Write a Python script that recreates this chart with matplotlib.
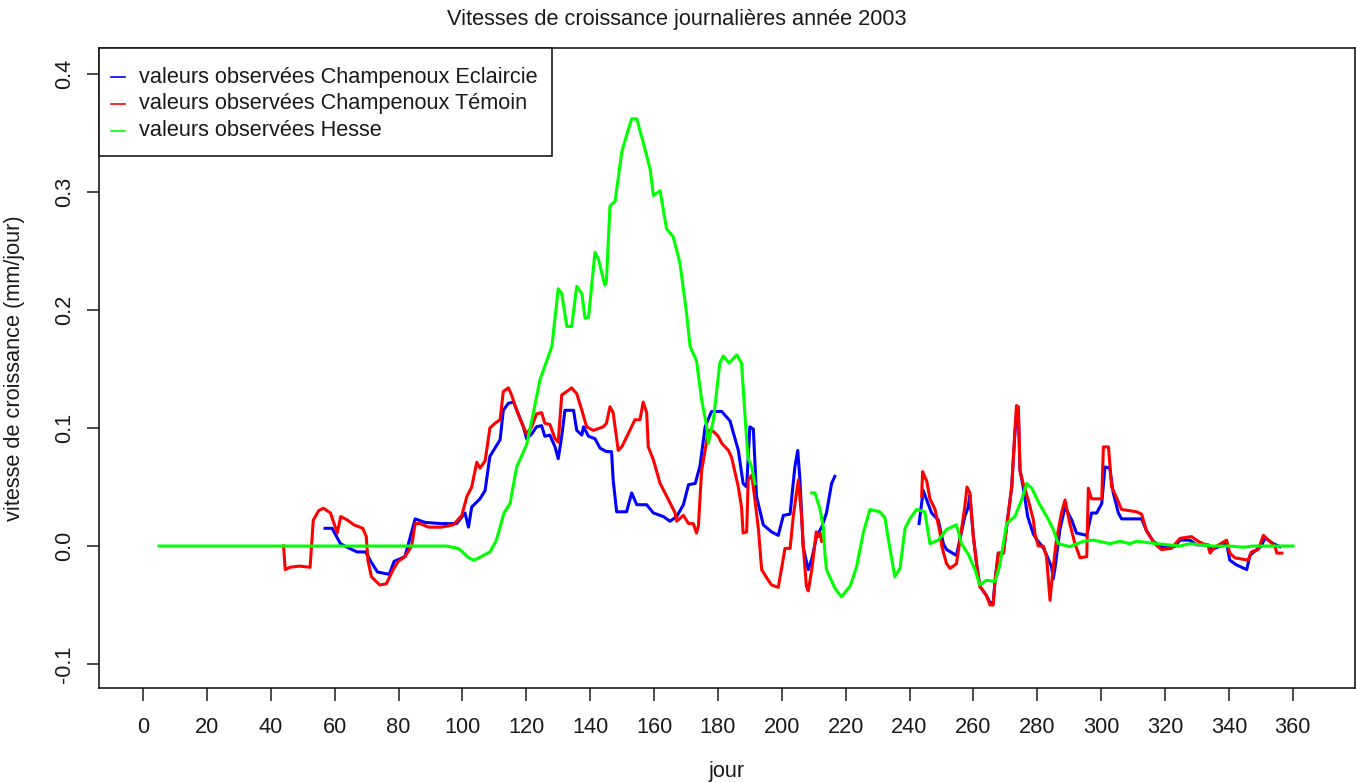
import numpy as np
import matplotlib
matplotlib.use("Agg")
import matplotlib.pyplot as plt
from matplotlib.patches import Rectangle
from matplotlib.lines import Line2D

plt.rcParams["font.family"] = ["Liberation Sans", "DejaVu Sans"]
FS = 15.7
INK = "#1a1a1a"

# --- data (day of year, growth rate mm/day) ---
# Champenoux Eclaircie (blue) -- two measured periods
blue_day1 = [57, 59.2, 61.8, 63.9, 67, 69.7, 71.3, 73.4, 77.1, 78.6, 82, 85.2, 88.3, 93.5, 98.2,
             100.8, 101.9, 102.9, 105.5, 107.1, 108.6, 110.2, 111.8, 112.8, 114.4, 116, 117.5,
             119.1, 120.1, 121.7, 123.2, 124.8, 125.8, 127.4, 129, 130, 131.1, 132.1, 134.8,
             135.8, 137.4, 137.9, 139.5, 141.5, 143.1, 145.1, 146.7, 147.2, 148.3, 151.4, 153,
             154.6, 157.7, 159.8, 162.9, 165, 167.1, 169.2, 170.8, 172.9, 174.4, 176, 178,
             181.2, 183.8, 186.4, 187.9, 189, 190, 191.1, 192.1, 194.2, 196.8, 198.9, 200.5,
             202.6, 204.1, 205, 205.7, 206.7, 208.3, 209.4, 210.9, 212.5, 214, 215.6, 216.6]
blue_val1 = [0.015, 0.015, 0.002, -0.001, -0.005, -0.005, -0.013, -0.022, -0.024, -0.013, -0.009,
             0.023, 0.020, 0.019, 0.019, 0.028, 0.016, 0.033, 0.040, 0.047, 0.076, 0.083, 0.090,
             0.115, 0.121, 0.122, 0.112, 0.101, 0.091, 0.095, 0.101, 0.102, 0.093, 0.094, 0.084,
             0.074, 0.093, 0.115, 0.115, 0.098, 0.094, 0.101, 0.093, 0.091, 0.083, 0.080, 0.080,
             0.056, 0.029, 0.029, 0.045, 0.035, 0.035, 0.028, 0.025, 0.021, 0.025, 0.035, 0.052,
             0.053, 0.068, 0.101, 0.114, 0.114, 0.106, 0.081, 0.053, 0.050, 0.101, 0.099, 0.042,
             0.018, 0.012, 0.009, 0.026, 0.027, 0.067, 0.081, 0.056, -0.001, -0.020, -0.011,
             0.008, 0.016, 0.028, 0.053, 0.059]
blue_day2 = [243, 244.3, 245.4, 246.9, 249, 250.6, 251.6, 254.7, 255.8, 257.3, 258.4, 258.9, 260,
             261, 262, 264.1, 265.2, 266.2, 266.8, 267.8, 269.4, 270.4, 272, 273, 273.5, 274.1,
             274.6, 275.6, 277, 278.8, 280, 282, 283, 284.5, 285, 285.6, 287.1, 288.7, 290.8,
             292.3, 295.5, 297, 298.6, 300.2, 301.2, 302.7, 303.8, 305.4, 306.4, 312.7, 314.2,
             316.3, 318.9, 323.1, 324.7, 327.8, 329.9, 333.5, 334.6, 339.3, 340.3, 342.4, 345.6,
             346.6, 348.7, 350.2, 351.3, 353.9, 356]
blue_val2 = [0.019, 0.047, 0.039, 0.028, 0.022, 0.002, -0.003, -0.008, 0.006, 0.025, 0.033, 0.043,
             0.008, -0.015, -0.034, -0.042, -0.048, -0.048, -0.029, -0.006, -0.006, 0.016, 0.050,
             0.095, 0.112, 0.112, 0.064, 0.050, 0.025, 0.010, 0.005, -0.002, -0.008, -0.018,
             -0.028, -0.018, 0.014, 0.033, 0.022, 0.011, 0.009, 0.028, 0.028, 0.036, 0.067, 0.066,
             0.045, 0.028, 0.023, 0.023, 0.013, 0.004, -0.0005, -0.0005, 0.005, 0.005, 0.001,
             0.001, -0.003, 0.002, -0.012, -0.016, -0.020, -0.008, -0.003, 0.0, 0.007, 0.002,
             -0.0005]

# Champenoux Temoin (red)
red_day1 = [44, 44.5, 46, 49, 52.3, 53.3, 55, 56.5, 58.7, 60.8, 61.9, 64, 66, 68.8, 69.9, 70.4,
            71.5, 74.1, 76.2, 78.3, 79.9, 82, 84.1, 85.2, 86.7, 89.4, 93.5, 97.2, 99.8, 101.4,
            102.9, 104.5, 105.5, 107.1, 108.6, 110.2, 111.8, 112.8, 114.4, 115.4, 117, 118.6,
            120.1, 121.7, 123.2, 124.8, 125.8, 127.4, 129, 130, 131.1, 132.7, 134.2, 135.8,
            137.4, 138.9, 141, 144.1, 145.1, 146.2, 147.2, 148.8, 149.9, 151.9, 154, 155.6,
            156.6, 157.7, 158.2, 159.8, 161.9, 164, 166.6, 167.1, 169.2, 170.8, 172.3, 173.3,
            173.9, 174.9, 176, 177, 178.6, 180.1, 181.2, 183.3, 184.3, 186.4, 187.4, 187.9, 189,
            189.5, 190.6, 191.6, 192.7, 193.7, 195.3, 196.8, 198.9, 200, 201, 202.6, 203.6,
            204.6, 205.2, 206.2, 206.9, 207.7, 208.3, 209.4, 210.8, 211.4, 212, 212.5]
red_val1 = [0.0, -0.020, -0.018, -0.017, -0.018, 0.022, 0.030, 0.032, 0.028, 0.011, 0.025, 0.022,
            0.018, 0.015, 0.008, -0.012, -0.026, -0.033, -0.032, -0.020, -0.013, -0.009, 0.0,
            0.019, 0.019, 0.016, 0.016, 0.018, 0.026, 0.042, 0.050, 0.071, 0.066, 0.072, 0.100,
            0.104, 0.107, 0.131, 0.134, 0.128, 0.115, 0.104, 0.095, 0.101, 0.112, 0.113, 0.104,
            0.103, 0.091, 0.088, 0.128, 0.131, 0.134, 0.129, 0.115, 0.101, 0.098, 0.101, 0.104,
            0.118, 0.113, 0.081, 0.084, 0.095, 0.107, 0.107, 0.122, 0.113, 0.084, 0.073, 0.053,
            0.042, 0.028, 0.021, 0.026, 0.019, 0.019, 0.011, 0.017, 0.064, 0.081, 0.098, 0.097,
            0.093, 0.087, 0.081, 0.075, 0.050, 0.033, 0.011, 0.012, 0.056, 0.060, 0.039, 0.014,
            -0.020, -0.027, -0.033, -0.035, -0.018, -0.002, -0.002, 0.025, 0.045, 0.056, 0.025,
            -0.006, -0.034, -0.038, -0.020, 0.012, 0.008, 0.011, 0.004]
red_day2 = [243.8, 244.1, 245.4, 246.4, 248, 249.5, 250.1, 251.6, 252.7, 254.7, 255.8, 257.3, 258,
            258.9, 260, 261, 262, 264.1, 265.2, 266.2, 266.8, 267.8, 269.4, 270.4, 272, 273,
            273.5, 274.1, 274.6, 275.6, 277.2, 278.8, 279.3, 280.3, 281.9, 282.9, 284, 285, 286,
            287.6, 288.7, 290.2, 291.8, 293.4, 295.5, 296, 297, 300.2, 300.7, 302.3, 303.3, 305,
            306.4, 311.1, 312.7, 314.2, 316.8, 318.9, 322, 324.7, 328.3, 330.4, 333.5, 334.1,
            335.6, 339.3, 340.3, 341.9, 346, 347.1, 349.2, 350.8, 352.4, 354.5, 355, 356.6]
red_val2 = [0.042, 0.063, 0.055, 0.040, 0.031, 0.012, 0.0, -0.015, -0.019, -0.015, 0.005, 0.033,
            0.050, 0.045, 0.008, -0.015, -0.034, -0.042, -0.050, -0.050, -0.029, -0.006, -0.006,
            0.016, 0.050, 0.098, 0.119, 0.118, 0.064, 0.053, 0.039, 0.022, 0.010, 0.0, 0.0,
            -0.009, -0.046, -0.018, 0.005, 0.028, 0.039, 0.019, 0.002, -0.010, -0.009, 0.049,
            0.040, 0.040, 0.084, 0.084, 0.050, 0.040, 0.031, 0.029, 0.027, 0.013, 0.002, -0.003,
            -0.002, 0.0065, 0.008, 0.004, 0.0, -0.006, -0.001, 0.005, -0.006, -0.010, -0.012,
            -0.005, -0.003, 0.009, 0.005, -0.0005, -0.006, -0.006]

# Hesse (green)
green_day1 = [5, 95, 98.7, 100, 101.5, 103.4, 104.5, 106.5, 108.6, 110.5, 111.8, 113, 114.9, 117,
              120.1, 122, 124.3, 128, 130, 131.1, 132.7, 134.2, 135.8, 137.4, 138.4, 139.5,
              141.5, 142.6, 144.6, 145.1, 146.2, 147.8, 149.9, 151.4, 153, 154.6, 157.2, 158.8,
              159.8, 161.9, 163.9, 166, 168.1, 170.2, 171.3, 173.3, 174.9, 176.5, 177, 178.6,
              180.6, 181.7, 183.5, 185.9, 187.4, 189, 189.5, 190.6, 191.6]
green_val1 = [0.0, 0.0, -0.002, -0.005, -0.009, -0.012, -0.011, -0.008, -0.005, 0.004, 0.016,
              0.028, 0.036, 0.067, 0.086, 0.110, 0.141, 0.169, 0.218, 0.214, 0.186, 0.186, 0.220,
              0.214, 0.193, 0.194, 0.249, 0.243, 0.221, 0.225, 0.288, 0.292, 0.334, 0.348, 0.362,
              0.362, 0.336, 0.319, 0.297, 0.301, 0.269, 0.262, 0.240, 0.197, 0.169, 0.157, 0.124,
              0.101, 0.087, 0.107, 0.155, 0.161, 0.155, 0.162, 0.155, 0.090, 0.074, 0.067, 0.053]
green_day2 = [209.4, 210.4, 212, 213, 213.5, 214, 216.7, 218.7, 221.4, 223.4, 225.5, 227.6, 230.7,
              232.3, 233.6, 235.4, 237, 238.6, 240.1, 242.2, 244.8, 246.4, 249, 251.6, 254.7,
              256.3, 258.4, 260.5, 262, 264.1, 266.8, 268.3, 270.4, 273, 275.1, 276.7, 278.3,
              280.8, 283.4, 285, 286.6, 290.2, 294.4, 297.5, 302.8, 305.9, 309, 311.1, 318.4,
              324.6, 327.8, 335, 340.3, 344.5, 347.6, 360.1]
green_val2 = [0.045, 0.045, 0.031, 0.016, -0.006, -0.020, -0.036, -0.043, -0.034, -0.018, 0.011,
              0.031, 0.029, 0.024, 0.002, -0.026, -0.019, 0.015, 0.023, 0.031, 0.029, 0.002,
              0.005, 0.014, 0.018, 0.002, -0.007, -0.020, -0.033, -0.029, -0.030, -0.016, 0.019,
              0.025, 0.039, 0.053, 0.049, 0.035, 0.023, 0.014, 0.002, -0.0005, 0.004, 0.005,
              0.002, 0.004, 0.002, 0.004, 0.0017, 0.0, 0.002, 0.0, 0.0, -0.001, 0.0, 0.0]

x_ticks = list(range(0, 361, 20))
y_ticks = [-0.1, 0.0, 0.1, 0.2, 0.3, 0.4]
y_ticklabels = ["-0.1", "0.0", "0.1", "0.2", "0.3", "0.4"]
labels = ["valeurs observées Champenoux Eclaircie",
          "valeurs observées Champenoux Témoin",
          "valeurs observées Hesse"]
colors = ["#0000ff", "#ff0000", "#00ff00"]

W, H = 1357, 783
fig = plt.figure(figsize=(W / 100, H / 100), dpi=100)
ax = fig.add_axes([99 / W, 1 - 688 / H, (1355 - 99) / W, (688 - 48) / H])

lw = 2.2
for day, val, c in [(blue_day1, blue_val1, colors[0]), (blue_day2, blue_val2, colors[0]),
                    (red_day1, red_val1, colors[1]), (red_day2, red_val2, colors[1]),
                    (green_day1, green_val1, colors[2]), (green_day2, green_val2, colors[2])]:
    ax.plot(day, val, color=c, lw=lw)

ax.set_xlim(-13.8, 379.5)
ax.set_ylim(-0.1203, 0.422)
ax.set_xticks(x_ticks)
ax.set_xticklabels([str(t) for t in x_ticks], fontsize=FS)
ax.set_yticks(y_ticks)
ax.set_yticklabels(y_ticklabels, fontsize=FS, rotation=90, va="center")
ax.tick_params(axis="x", length=9, width=1.1, pad=12, colors=INK)
ax.tick_params(axis="y", length=9, width=1.1, pad=8, colors=INK)
for s in ax.spines.values():
    s.set_linewidth(1.2)
    s.set_color(INK)

# R-style legend box in the top-left corner (pixel layout of the reference)
def fx(px): return px / W
def fy(py): return 1 - py / H

fig.add_artist(Rectangle((fx(99), fy(156)), fx(552) - fx(99), fy(48) - fy(156),
                         transform=fig.transFigure, facecolor="white", edgecolor=INK,
                         lw=1.2, zorder=5))
for i, (lab, c) in enumerate(zip(labels, colors)):
    yc = 77 + 27 * i
    fig.add_artist(Line2D([fx(111), fx(125)], [fy(yc), fy(yc)], transform=fig.transFigure,
                          color=c, lw=1.2, zorder=6))
    fig.text(fx(139), fy(yc), lab, fontsize=FS, ha="left", va="center", color=INK, zorder=6)

fig.text(677 / W, 1 - 20 / H, "Vitesses de croissance journalières année 2003", fontsize=FS,
         ha="center", va="center", color=INK)
fig.text(727 / W, 1 - 771 / H, "jour", fontsize=FS, ha="center", va="center", color=INK)
fig.text(15 / W, 1 - 368 / H, "vitesse de croissance (mm/jour)", fontsize=FS, rotation=90,
         ha="center", va="center", color=INK)

fig.savefig("out.png", dpi=100)
